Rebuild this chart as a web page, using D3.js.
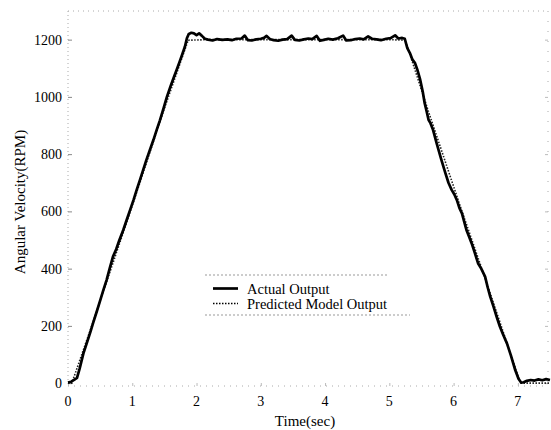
<!DOCTYPE html>
<html>
<head>
<meta charset="utf-8">
<script src="https://cdn.jsdelivr.net/npm/d3@7"></script>
<style>
  body { margin: 0; background: #fff; }
  svg { display: block; font-family: "Liberation Serif", "DejaVu Serif", serif; }
</style>
</head>
<body>
<svg width="551" height="430"></svg>
<script>
// actual measured speed
const timeActual = [0.00,0.05,0.10,0.14,0.18,0.24,0.30,0.35,0.39,0.45,0.50,0.55,0.60,0.65,0.70,0.75,0.80,0.86,0.91,0.96,
  1.02,1.07,1.12,1.17,1.22,1.27,1.33,1.38,1.43,1.49,1.54,1.60,1.65,1.69,1.74,1.78,1.82,1.85,1.88,1.92,1.96,
  2.00,2.04,2.08,2.13,2.18,2.25,2.32,2.40,2.48,2.55,2.62,2.70,2.75,2.80,2.86,2.93,3.00,3.05,3.09,3.14,3.20,3.27,
  3.34,3.41,3.48,3.53,3.60,3.67,3.74,3.80,3.87,3.92,3.98,4.05,4.12,4.20,4.28,4.33,4.40,4.47,4.54,4.60,4.67,4.73,
  4.80,4.87,4.95,5.02,5.09,5.14,5.20,5.24,5.28,5.32,5.36,5.40,5.44,5.48,5.52,5.55,5.58,5.61,5.64,5.68,5.74,5.81,
  5.87,5.92,5.97,6.01,6.05,6.09,6.13,6.17,6.20,6.24,6.28,6.33,6.38,6.43,6.49,6.53,6.57,6.62,6.67,6.72,6.77,6.83,
  6.89,6.96,7.01,7.05,7.09,7.14,7.20,7.26,7.32,7.38,7.44,7.50];
const rpmActual = [2,5,12,18,50,104,145,180,210,252,288,325,360,402,442,468,500,535,568,601,
  640,676,710,745,780,812,850,885,918,962,1001,1040,1070,1094,1125,1150,1176,1205,1220,1224,1222,
  1216,1222,1214,1203,1200,1197,1202,1199,1201,1198,1203,1204,1214,1198,1197,1201,1203,1206,1213,1202,1198,1196,
  1200,1202,1214,1199,1197,1201,1204,1202,1213,1196,1199,1203,1200,1205,1214,1197,1198,1202,1204,1201,1211,1203,
  1201,1198,1203,1205,1215,1204,1206,1203,1170,1153,1130,1118,1092,1060,1018,978,950,920,908,885,835,780,
  735,700,675,660,640,612,593,560,535,512,489,455,419,400,372,335,302,268,232,198,170,139,
  98,45,15,2,3,8,11,9,13,10,14,11];

// model prediction
const timeModel = [0.00,0.06,0.40,1.00,1.50,1.87,2.20,3.00,4.00,5.00,5.25,5.60,6.10,6.50,7.04,7.20,7.50];
const rpmModel  = [0,0,220,620,960,1198,1200,1200,1200,1200,1198,955,620,360,0,0,0];

const xTicks = [0,1,2,3,4,5,6,7];
const yTicks = [0,200,400,600,800,1000,1200];
const seriesNames = ["Actual Output", "Predicted Model Output"];

const svg = d3.select("svg");
const x = d3.scaleLinear().domain([0, 7.5]).range([68, 550]);
const y = d3.scaleLinear().domain([-10, 1300]).range([386, 11]);
const pLeft = 68, pRight = 548, pTop = 11, pBottom = 386;

// faint dotted frame
const frame = svg.append("g").attr("stroke", "#aaa").attr("stroke-width", 1)
  .attr("stroke-dasharray", "1,3").attr("fill", "none");
frame.append("line").attr("x1", pLeft).attr("x2", pLeft).attr("y1", pTop).attr("y2", pBottom);
frame.append("line").attr("x1", pRight).attr("x2", pRight).attr("y1", pTop).attr("y2", pBottom)
  .attr("stroke-dasharray", "1,9");
frame.append("line").attr("x1", pLeft).attr("x2", pRight).attr("y1", pTop).attr("y2", pTop)
  .attr("stroke-dasharray", "1,4");
frame.append("line").attr("x1", pLeft).attr("x2", pRight).attr("y1", pBottom).attr("y2", pBottom)
  .attr("stroke-dasharray", "1,5");

// y axis
const yAxis = svg.append("g").attr("transform", `translate(${pLeft},0)`)
  .call(d3.axisRight(y).tickValues(yTicks).tickSize(4).tickFormat(""));
yAxis.select(".domain").remove();
yAxis.selectAll("line").attr("stroke", "#888");
svg.append("g").selectAll("text").data(yTicks).join("text")
  .attr("x", pLeft - 6).attr("y", d => y(d)).attr("dy", "0.35em")
  .attr("text-anchor", "end").attr("font-size", "14px").text(d => d);

// right side ticks
const yAxisR = svg.append("g").attr("transform", `translate(${pRight},0)`)
  .call(d3.axisLeft(y).tickValues(yTicks).tickSize(3).tickFormat(""));
yAxisR.select(".domain").remove();
yAxisR.selectAll("line").attr("stroke", "#bbb");

// x axis
const xAxis = svg.append("g").attr("transform", `translate(0,${pBottom})`)
  .call(d3.axisTop(x).tickValues(xTicks).tickSize(3).tickFormat(""));
xAxis.select(".domain").remove();
xAxis.selectAll("line").attr("stroke", "#bbb");
svg.append("g").selectAll("text").data(xTicks).join("text")
  .attr("x", d => x(d)).attr("y", 406)
  .attr("text-anchor", "middle").attr("font-size", "14px").text(d => d);

// axis titles
svg.append("text").attr("x", 305).attr("y", 426)
  .attr("text-anchor", "middle").attr("font-size", "15px").text("Time(sec)");
svg.append("text").attr("transform", "translate(25,202) rotate(-90)")
  .attr("text-anchor", "middle").attr("font-size", "15px").text("Angular Velocity(RPM)");

// lines
const lineA = d3.line().x(d => x(d[0])).y(d => y(d[1]));
svg.append("path")
  .datum(d3.zip(timeModel, rpmModel))
  .attr("fill", "none").attr("stroke", "#222").attr("stroke-width", 1.6)
  .attr("stroke-dasharray", "1.5,1.5")
  .attr("d", lineA);
svg.append("path")
  .datum(d3.zip(timeActual, rpmActual))
  .attr("fill", "none").attr("stroke", "#000").attr("stroke-width", 2.7)
  .attr("stroke-linejoin", "round")
  .attr("d", lineA);

// legend
const lg = svg.append("g");
lg.append("line").attr("x1", 205).attr("x2", 388).attr("y1", 275).attr("y2", 275)
  .attr("stroke", "#999").attr("stroke-dasharray", "2,2");
lg.append("line").attr("x1", 205).attr("x2", 410).attr("y1", 315).attr("y2", 315)
  .attr("stroke", "#999").attr("stroke-dasharray", "2,2");
seriesNames.forEach((name, i) => {
  const yy = 288.5 + i * 15;
  const l = lg.append("line").attr("x1", 213).attr("x2", 238).attr("y1", yy).attr("y2", yy)
    .attr("stroke", "#000");
  if (i === 0) l.attr("stroke-width", 2.7);
  else l.attr("stroke-width", 1.6).attr("stroke-dasharray", "1.5,1.5");
  lg.append("text").attr("x", 247).attr("y", yy).attr("dy", "0.35em")
    .attr("font-size", "14.5px").text(name);
});
</script>
</body>
</html>
